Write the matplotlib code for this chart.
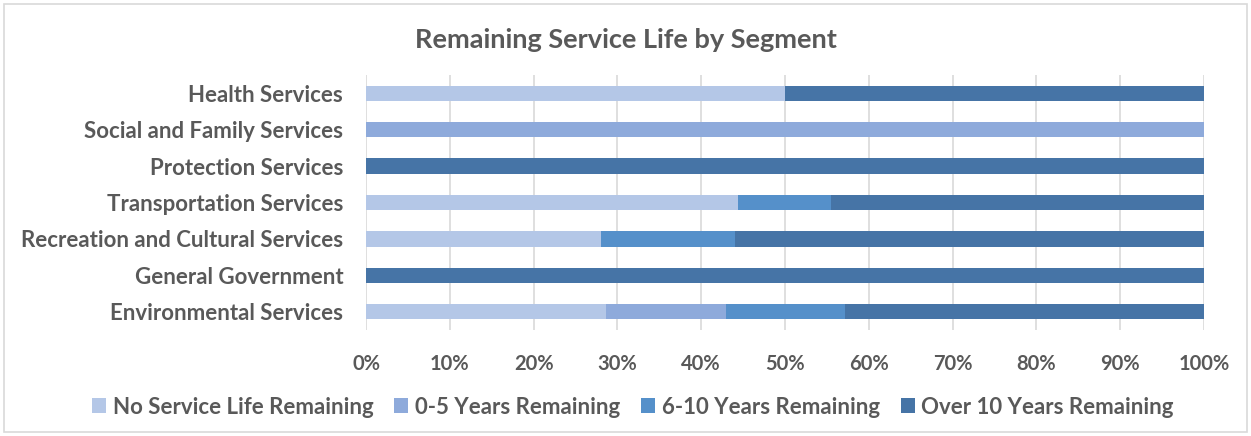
import matplotlib.pyplot as plt
from matplotlib.patches import Rectangle
from matplotlib.ticker import PercentFormatter

# remaining service life by segment, shares in percent
segments = [
    "Health Services",
    "Social and Family Services",
    "Protection Services",
    "Transportation Services",
    "Recreation and Cultural Services",
    "General Government",
    "Environmental Services",
]
no_life_left = [50, 0, 0, 44.4, 28, 0, 28.6]
years_0_5 = [0, 100, 0, 0, 0, 0, 14.3]
years_6_10 = [0, 0, 0, 11.1, 16, 0, 14.3]
over_10_years = [50, 0, 100, 44.5, 56, 100, 42.8]

series_names = [
    "No Service Life Remaining",
    "0-5 Years Remaining",
    "6-10 Years Remaining",
    "Over 10 Years Remaining",
]
series_values = [no_life_left, years_0_5, years_6_10, over_10_years]
colors = ["#B4C7E7", "#8EAADB", "#5590CA", "#4674A6"]
text_color = "#595959"

plt.rcParams["font.family"] = ["Lato", "DejaVu Sans"]

fig = plt.figure(figsize=(12.51, 4.36), dpi=100)
ax = fig.add_axes([0.2926, 0.243, 0.6698, 0.585])

left = [0] * len(segments)
for name, values, color in zip(series_names, series_values, colors):
    ax.barh(segments, values, left=left, height=0.42, color=color, label=name, zorder=3)
    left = [a + b for a, b in zip(left, values)]

ax.set_xlim(0, 100)
ax.set_ylim(-0.5, len(segments) - 0.5)
ax.invert_yaxis()
ax.set_xticks(range(0, 101, 10))
ax.xaxis.set_major_formatter(PercentFormatter(decimals=0))
ax.grid(axis="x", color="#D9D9D9", linewidth=1.2, zorder=0)
for spine in ax.spines.values():
    spine.set_visible(False)
ax.tick_params(axis="both", length=0, labelcolor=text_color)
ax.tick_params(axis="x", pad=17, labelsize=14.5)
ax.tick_params(axis="y", pad=16.5, labelsize=16)
for lbl in ax.get_xticklabels() + ax.get_yticklabels():
    lbl.set_fontweight("bold")

fig.text(0.5, 1 - 40 / 436, "Remaining Service Life by Segment", ha="center", va="center",
         fontsize=19.5, fontweight="bold", color=text_color)

fig.legend(loc="center", bbox_to_anchor=(0.506, 1 - 407 / 436), ncol=4, frameon=False,
           handlelength=0.62, handleheight=0.62, handletextpad=0.3, columnspacing=0.95,
           prop={"size": 16, "weight": "bold"}, labelcolor=text_color)

# light frame around the whole chart area
fig.patches.append(Rectangle((4 / 1251, 4 / 436), 1 - 8 / 1251, 1 - 8 / 436,
                             transform=fig.transFigure, fill=False,
                             edgecolor="#D9D9D9", linewidth=1.2))

fig.savefig("out.png", dpi=100, facecolor="white")
